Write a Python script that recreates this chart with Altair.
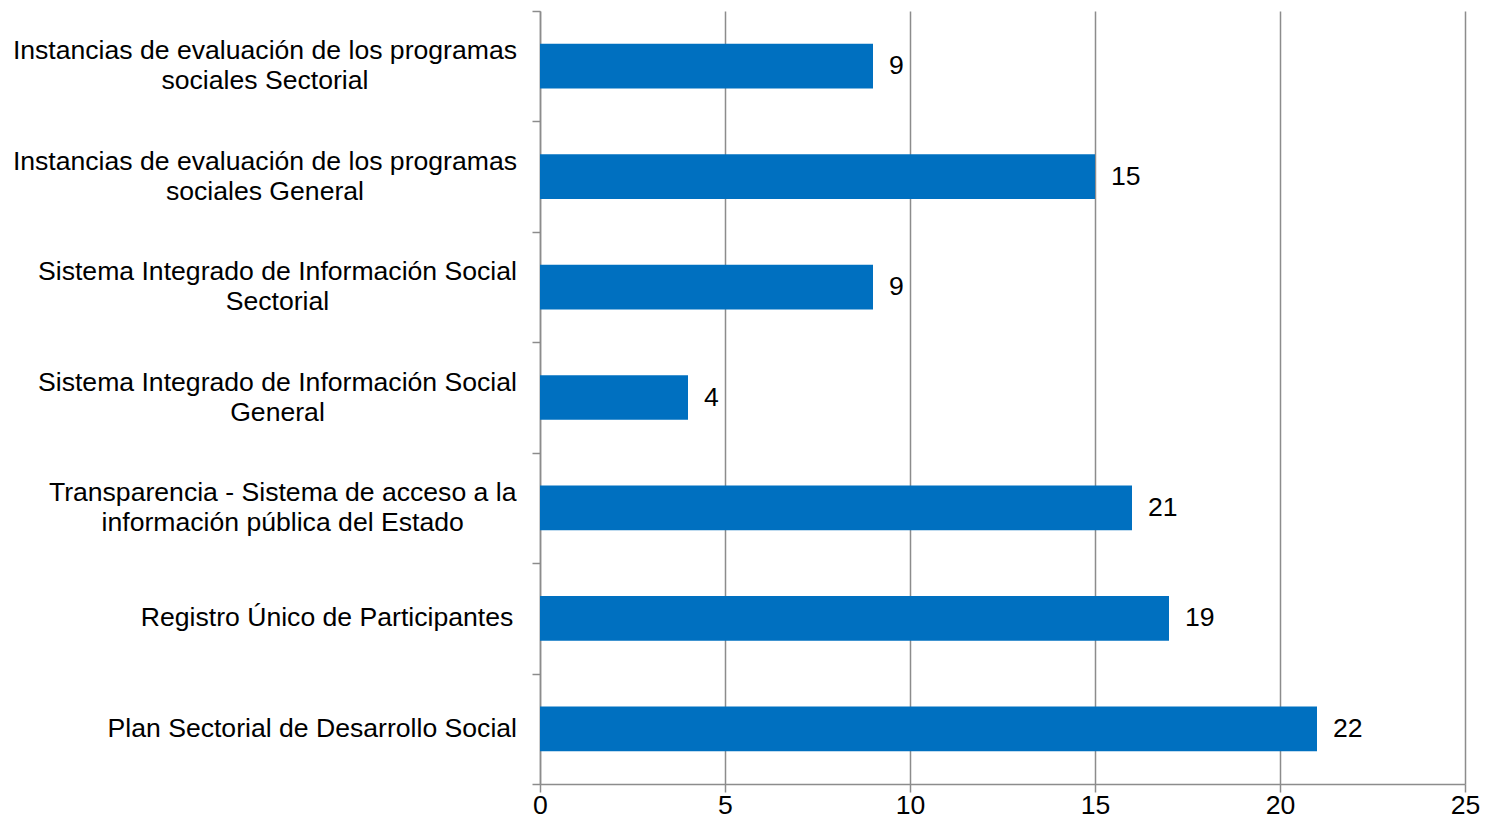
import unicodedata
import altair as alt
import pandas as pd

# ---- data (top to bottom as in the picture) ----
categories = [
    "Instancias de evaluación de los programas\nsociales Sectorial",
    "Instancias de evaluación de los programas\nsociales General",
    "Sistema Integrado de Información Social\nSectorial",
    "Sistema Integrado de Información Social\nGeneral",
    "Transparencia - Sistema de acceso a la\ninformación pública del Estado",
    "Registro Único de Participantes ",
    "Plan Sectorial de Desarrollo Social",
]
bar_values = [9, 15, 9, 4, 16, 17, 21]
label_values = [9, 15, 9, 4, 21, 19, 22]
x_ticks = [0, 5, 10, 15, 20, 25]

# ---- style ----
FONT = "Liberation Sans"
FS = 26.6
GRAY = "#8c8c8c"
BAR = "#0070C0"
W, H = 925, 773
XMAX = 25
GAP = 23  # px between label block and axis
LH = 30   # line spacing of two-line labels

# Arial / Liberation Sans advance widths (1/1000 em) to centre multi-line labels
AW = {
    " ": 278, "-": 333, "a": 556, "b": 556, "c": 500, "d": 556, "e": 556, "f": 278,
    "g": 556, "h": 556, "i": 222, "j": 222, "k": 500, "l": 222, "m": 833, "n": 556,
    "o": 556, "p": 556, "q": 556, "r": 333, "s": 500, "t": 278, "u": 556, "v": 500,
    "w": 722, "x": 500, "y": 500, "z": 500, "A": 667, "B": 667, "C": 722, "D": 722,
    "E": 667, "F": 611, "G": 778, "H": 722, "I": 278, "J": 500, "K": 667, "L": 556,
    "M": 833, "N": 722, "O": 778, "P": 667, "Q": 778, "R": 722, "S": 667, "T": 611,
    "U": 722, "V": 667, "W": 944, "X": 667, "Y": 667, "Z": 611,
}


def text_width(s):
    tot = 0
    for ch in s:
        base = unicodedata.normalize("NFD", ch)[0]
        tot += AW.get(base, 556)
    return tot * FS / 1000.0


rows = []
for cat, bv, lv in zip(categories, bar_values, label_values):
    lines = cat.split("\n")
    wmax = max(text_width(l) for l in lines)
    centre_px = -(GAP + wmax / 2.0)
    disp = [l.rstrip(" ") + ("\u00a0" if l.endswith(" ") else "") for l in lines]
    rows.append({
        "cat": cat,
        "n": len(lines),
        "line1": disp[0],
        "line2": disp[1] if len(disp) > 1 else "",
        "bar": bv,
        "lab": lv,
        "lx": centre_px * XMAX / W,
    })
df = pd.DataFrame(rows)

y_axis = alt.Axis(
    labels=False, title=None, grid=False, tickBand="extent", tickSize=8,
    ticks=True, tickColor=GRAY, domainColor=GRAY, tickWidth=1.5, domainWidth=1.5,
)
y_scale = alt.Scale(paddingInner=0, paddingOuter=0)
y_enc = alt.Y("cat:N", sort=None, scale=y_scale, axis=y_axis)

x_axis = alt.Axis(
    values=x_ticks, title=None, grid=True, gridColor=GRAY, gridWidth=1.5,
    domainColor=GRAY, domainWidth=1.5, tickColor=GRAY, tickWidth=1.5,
    ticks=True, tickSize=8, labelFont=FONT, labelFontSize=FS,
    labelColor="#000000", labelPadding=0, labelFlush=False,
)
x_scale = alt.Scale(domain=[0, XMAX], nice=False, zero=True)


def xq(field):
    return alt.X(f"{field}:Q", scale=x_scale, axis=x_axis)


base = alt.Chart(df)

bars = base.mark_bar(color=BAR, height={"band": 0.405}).encode(x=xq("bar"), y=y_enc)

values = base.mark_text(
    align="left", baseline="middle", dx=16, font=FONT, fontSize=FS, color="#000000"
).encode(x=xq("bar"), y=y_enc, text="lab:Q")

txt = dict(align="center", baseline="middle", font=FONT, fontSize=FS, color="#000000")

single = base.transform_filter("datum.n == 1").mark_text(**txt).encode(
    x=xq("lx"), y=y_enc, text="line1:N")
first = base.transform_filter("datum.n == 2").mark_text(dy=-LH / 2, **txt).encode(
    x=xq("lx"), y=y_enc, text="line1:N")
second = base.transform_filter("datum.n == 2").mark_text(dy=LH / 2, **txt).encode(
    x=xq("lx"), y=y_enc, text="line2:N")

chart = (
    alt.layer(bars, values, single, first, second)
    .properties(
        width=W, height=H,
        background="white",
        autosize=alt.AutoSizeParams(type="none"),
        padding={"left": 532, "top": 3, "right": 16, "bottom": 34},
    )
    .configure_view(strokeWidth=0)
)

chart.save("out.html", embed_options={"renderer": "svg", "actions": False})
